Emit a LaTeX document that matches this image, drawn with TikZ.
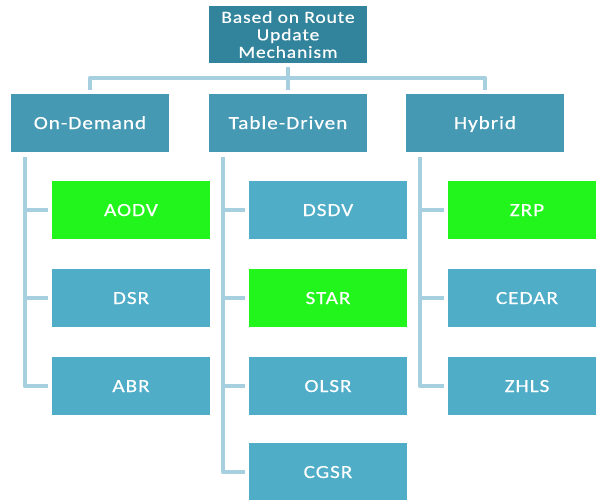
\documentclass[tikz,border=0pt]{standalone}
\usepackage{fontspec}
\setmainfont{Carlito}[LetterSpace=5,FakeStretch=1.15,FakeBold=0.4]
\definecolor{rootc}{HTML}{31849B}
\definecolor{levc}{HTML}{4599B3}
\definecolor{leafc}{HTML}{4FADC8}
\definecolor{greenc}{HTML}{22F51C}
\definecolor{connc}{HTML}{A6CFDF}
\tikzset{
  box/.style={rectangle, inner sep=0pt, minimum width=158pt, minimum height=58pt, text=white, align=center},
  onebox/.style={box, text height=12pt, text depth=0pt, font=\fontsize{18.5}{20}\selectfont},
  rootbox/.style={box, fill=rootc, minimum height=57pt, font=\fontsize{17}{17.5}\selectfont},
  levbox/.style={onebox, fill=levc},
  leafbox/.style={onebox, fill=leafc},
  greenbox/.style={onebox, fill=greenc},
  conn/.style={draw=connc, line width=4.5pt, line join=round, line cap=butt},
}
\begin{document}
\begin{tikzpicture}[x=1pt,y=-1pt]
\useasboundingbox (0,0) rectangle (596,499);
\clip (0,0) rectangle (596,499);
% root
\node[rootbox] (root) at (288,34.5) {Based on Route\\Update\\Mechanism};
% level 1
\node[levbox] (od) at (90,123) {On-Demand};
\node[levbox] (td) at (288,123) {Table-Driven};
\node[levbox] (hy) at (485,123) {Hybrid};
% leaves
\node[greenbox] (aodv) at (131,210) {AODV};
\node[leafbox] (dsr) at (131,298) {DSR};
\node[leafbox] (abr) at (131,386) {ABR};
\node[leafbox] (dsdv) at (328,210) {DSDV};
\node[greenbox] (star) at (328,298) {STAR};
\node[leafbox] (olsr) at (328,386) {OLSR};
\node[leafbox] (cgsr) at (328,472) {CGSR};
\node[greenbox] (zrp) at (527,210) {ZRP};
\node[leafbox] (cedar) at (527,298) {CEDAR};
\node[leafbox] (zhls) at (527,386) {ZHLS};
% top connectors
\coordinate (busL) at (90,78);
\coordinate (busR) at (485,78);
\draw[conn] ([yshift=-4pt]root.south) -- (root.south |- busL);
\draw[conn] ([yshift=4pt]od.north) -- (busL) -- (busR) -- ([yshift=4pt]hy.north);
\draw[conn] (td.north |- busL) -- ([yshift=4pt]td.north);
% On-Demand branches
\coordinate (odv) at (25,157);
\draw[conn] (odv) |- ([xshift=-4pt]abr.west);
\draw[conn] (odv |- aodv.west) -- ([xshift=-4pt]aodv.west);
\draw[conn] (odv |- dsr.west) -- ([xshift=-4pt]dsr.west);
% Table-Driven branches
\coordinate (tdv) at (223,157);
\draw[conn] (tdv) |- ([xshift=-4pt]cgsr.west);
\draw[conn] (tdv |- dsdv.west) -- ([xshift=-4pt]dsdv.west);
\draw[conn] (tdv |- star.west) -- ([xshift=-4pt]star.west);
\draw[conn] (tdv |- olsr.west) -- ([xshift=-4pt]olsr.west);
% Hybrid branches
\coordinate (hyv) at (420,157);
\draw[conn] (hyv) |- ([xshift=-4pt]zhls.west);
\draw[conn] (hyv |- zrp.west) -- ([xshift=-4pt]zrp.west);
\draw[conn] (hyv |- cedar.west) -- ([xshift=-4pt]cedar.west);
\end{tikzpicture}
\end{document}
